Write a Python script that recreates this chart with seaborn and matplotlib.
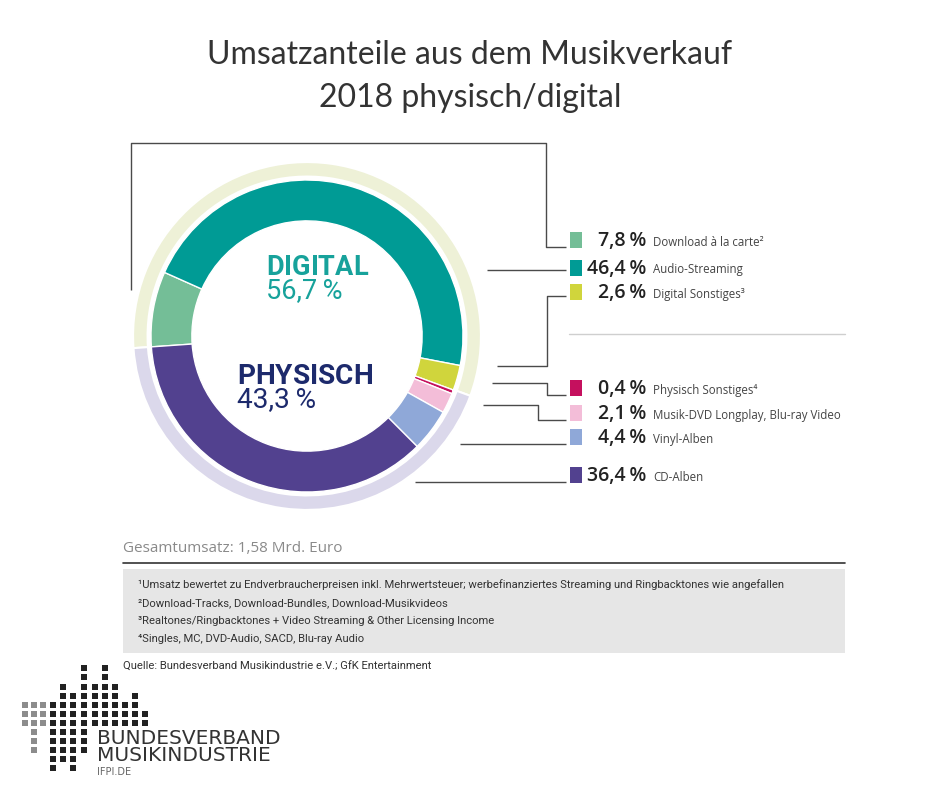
import matplotlib
matplotlib.use("Agg")
import matplotlib.pyplot as plt
import seaborn as sns
import pandas as pd
from matplotlib.path import Path
from matplotlib.patches import Rectangle

# ---------------- data ----------------
title_lines = ["Umsatzanteile aus dem Musikverkauf", "2018 physisch/digital"]
categories = ["Download à la carte²", "Audio-Streaming", "Digital Sonstiges³",
              "Physisch Sonstiges⁴", "Musik-DVD Longplay, Blu-ray Video",
              "Vinyl-Alben", "CD-Alben"]
shares = [7.8, 46.4, 2.6, 0.4, 2.1, 4.4, 36.4]
seg_colors = ["#74be97", "#009b95", "#d0d53c", "#c5105e", "#f3bdd8", "#8fa8d8", "#52418f"]
groups = ["DIGITAL", "PHYSISCH"]
group_shares = [56.7, 43.3]
group_ring_colors = ["#eef1d7", "#dbd8eb"]
group_text_colors = ["#17a29b", "#1d2a6c"]
total_label = "Gesamtumsatz: 1,58 Mrd. Euro"
footnotes = [
    "¹Umsatz bewertet zu Endverbraucherpreisen inkl. Mehrwertsteuer; werbefinanziertes Streaming und Ringbacktones wie angefallen",
    "²Download-Tracks, Download-Bundles, Download-Musikvideos",
    "³Realtones/Ringbacktones + Video Streaming & Other Licensing Income",
    "⁴Singles, MC, DVD-Audio, SACD, Blu-ray Audio",
]
source = "Quelle: Bundesverband Musikindustrie e.V.; GfK Entertainment"
logo_lines = ["BUNDESVERBAND", "MUSIKINDUSTRIE", "IFPI.DE"]


def fmt(v):
    return f"{v:.1f}".replace(".", ",") + "\u2009%"


W, H = 940, 788
sns.set_theme(style="white")
plt.rcParams["font.family"] = ["Open Sans", "DejaVu Sans"]
plt.rcParams["mathtext.fontset"] = "custom"
plt.rcParams["mathtext.rm"] = "Roboto"
plt.rcParams["mathtext.bf"] = "Roboto:bold"
NARROW = ["Roboto", "DejaVu Sans"]

fig = plt.figure(figsize=(W / 100, H / 100), dpi=100)
fig.patch.set_facecolor("white")

# ---------------- donut ----------------
cx, cy, R = 307, 336, 156
half = 1.2 * R
pie_ax = fig.add_axes([(cx - half) / W, (H - cy - half) / H, 2 * half / W, 2 * half / H])
pie_ax.pie(shares, colors=seg_colors, startangle=184, counterclock=False, radius=1.0,
           wedgeprops=dict(width=0.262, edgecolor="white", linewidth=1.0))
pie_ax.pie(group_shares, colors=group_ring_colors, startangle=184, counterclock=False,
           radius=1.115, wedgeprops=dict(width=0.093, edgecolor="white", linewidth=1.5))
pie_ax.set_xlim(-1.2, 1.2)
pie_ax.set_ylim(-1.2, 1.2)
pie_ax.axis("off")

# ---------------- overlay ----------------
ov = fig.add_axes([0, 0, 1, 1], facecolor="none")

# legend squares via seaborn
row_y = [240, 268, 292, 388, 413, 437, 475]
leg_df = pd.DataFrame({"x": [576] * len(categories), "y": row_y, "cat": categories})
rect = Path([(-0.72, -1), (0.72, -1), (0.72, 1), (-0.72, 1), (-0.72, -1)], closed=True)
sns.scatterplot(data=leg_df, x="x", y="y", hue="cat", palette=dict(zip(categories, seg_colors)),
                marker=rect, s=125, linewidth=0, legend=False, ax=ov)
ov.set_xlim(0, W)
ov.set_ylim(H, 0)
ov.axis("off")

# title
for yv, line in zip([55, 98], title_lines):
    ov.text(470, yv, line, ha="center", va="center", fontsize=23,
            family=["Lato", "DejaVu Sans"], color="#333333")

# center labels (bold group name + share, as one two-line text)
ov.text(266, 279, f"$\\mathbf{{{groups[0]}}}$\n{fmt(group_shares[0])}", ha="left",
        va="center", fontsize=19.5, linespacing=0.82, family=NARROW,
        color=group_text_colors[0])
ov.text(237, 388, f"$\\mathbf{{{groups[1]}}}$\n{fmt(group_shares[1])}", ha="left",
        va="center", fontsize=20.2, linespacing=0.82, family=NARROW,
        color=group_text_colors[1])

# leader lines
lc = "#4a4a4a"
leaders = [
    [(131, 290), (131, 143), (546, 143), (546, 247), (566, 247)],
    [(487, 270), (566, 270)],
    [(497, 366), (547, 366), (547, 296), (566, 296)],
    [(492, 383), (547, 383), (547, 395), (566, 395)],
    [(483, 405), (538, 405), (538, 420), (566, 420)],
    [(460, 444), (566, 444)],
    [(415, 482), (566, 482)],
]
for pts in leaders:
    xs, ys = zip(*pts)
    ov.plot(xs, ys, color=lc, lw=1.0, solid_capstyle="butt")
ov.plot([569, 845], [334, 334], color="#cfcfcf", lw=1.0)

for yv, cat, v in zip(row_y, categories, shares):
    ov.text(646, yv + 1, fmt(v), ha="right", va="center", fontsize=14, fontweight="semibold",
            color="#222222")
    ov.text(653, yv + 2, cat, ha="left", va="center", fontsize=8.3, color="#444444")

# total + footnotes
ov.text(123, 548, total_label, ha="left", va="center", fontsize=11, color="#8a8a8a")
ov.plot([123, 845], [563, 563], color="#333333", lw=1.2)
ov.add_patch(Rectangle((123, 569), 722, 84, facecolor="#e6e6e6", edgecolor="none"))
for i, fn in enumerate(footnotes):
    ov.text(138, 585 + i * 18, fn, ha="left", va="center", fontsize=8.1, family=NARROW,
            color="#333333")
ov.text(123, 667, source, ha="left", va="center", fontsize=8.1, family=NARROW, color="#333333")

# logo (dot matrix)
rows = [668, 677, 687, 696, 705, 714, 723, 732, 741, 750, 759, 768]
cols = [
    (25, [4, 5, 6], "#8c8c8c"),
    (34, [4, 5, 6, 7, 8, 9], "#8c8c8c"),
    (43, [4, 5, 6], "#8c8c8c"),
    (53, [4, 5, 6, 7, 8, 9, 10, 11], "#222222"),
    (63, [2, 3, 4, 5, 6, 7, 8, 9, 10], "#222222"),
    (73, [3, 4, 5, 6, 7, 8, 9, 10, 11], "#222222"),
    (84, [0, 1, 2, 3, 4, 5, 6, 7, 8, 9], "#222222"),
    (95, [2, 3, 4, 5, 6], "#222222"),
    (105, [0, 1, 2, 3, 4, 5, 6], "#222222"),
    (115, [2, 3, 4, 5, 6], "#222222"),
    (125, [4, 5, 6], "#222222"),
    (135, [3, 4, 5, 6], "#222222"),
    (145, [5, 6], "#222222"),
]
for x, idx, c in cols:
    ov.scatter([x] * len(idx), [rows[i] for i in idx], marker="s", s=16, color=c, linewidths=0)
ov.text(97, 747, logo_lines[0] + "\n" + logo_lines[1], ha="left", va="center", fontsize=14.5,
        linespacing=0.85, color="#333333", family=["DejaVu Sans"])
ov.text(97, 772, logo_lines[2], ha="left", va="center", fontsize=7, color="#666666",
        family=["DejaVu Sans"])

fig.savefig("out.png", dpi=100, facecolor="white")
